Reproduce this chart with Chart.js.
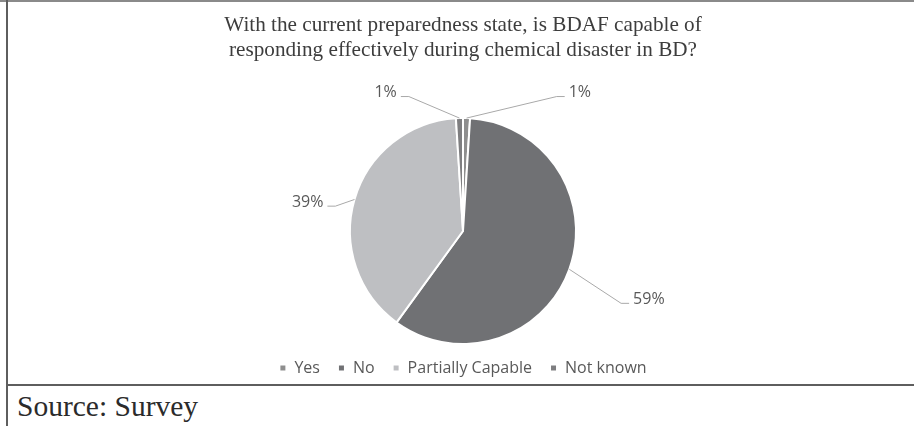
<!DOCTYPE html>
<html>
<head>
<meta charset="utf-8">
<script src="https://cdn.jsdelivr.net/npm/chart.js@4.4.1/dist/chart.umd.min.js"></script>
<style>
  html, body { margin: 0; padding: 0; background: #fff; }
  #page { position: relative; width: 914px; height: 426px; overflow: hidden; background: #fff; }
  #wrap { position: absolute; left: 0; top: 0; width: 914px; height: 386px; }
  .rule { position: absolute; background: #5e5e5e; }
  #source { position: absolute; left: 17px; top: 386px; font-family: "Liberation Serif", serif;
            font-size: 29.5px; color: #2b2b2b; line-height: 40px; white-space: nowrap; }
</style>
</head>
<body>
<div id="page">
  <div id="wrap"><canvas id="chart"></canvas></div>
  <div class="rule" style="left:0;top:0;width:914px;height:2px;background:#8a8a8a"></div>
  <div class="rule" style="left:6px;top:0;width:2px;height:426px"></div>
  <div class="rule" style="left:6px;top:384px;width:908px;height:2px"></div>
  <div id="source">Source: Survey</div>
</div>
<script>
const categories = ["Yes", "No", "Partially Capable", "Not known"];
const shares = [1, 59, 39, 1];
const sliceColors = ["#8e8e8e", "#707174", "#bebfc2", "#7e7e80"];
const titleLines = [
  "With the current preparedness state, is BDAF capable of",
  "responding effectively during chemical disaster in BD?"
];

// Where each leader line ends, relative to the pie centre, in radii.
// side: 1 = text to the right of the leader, -1 = text to the left.
const labelPlacement = [
  { dx: 0.90, dy: -1.19, side: 1 },
  { dx: 1.47, dy: 0.64, side: 1 },
  { dx: -1.20, dy: -0.22, side: -1 },
  { dx: -0.55, dy: -1.19, side: -1 }
];

const leaderLabels = {
  id: "leaderLabels",
  afterDatasetsDraw(chart) {
    const ctx = chart.ctx;
    const meta = chart.getDatasetMeta(0);
    const total = shares.reduce((a, b) => a + b, 0);
    ctx.save();
    meta.data.forEach((arc, i) => {
      const p = arc.getProps(["x", "y", "startAngle", "endAngle", "outerRadius"], true);
      const mid = (p.startAngle + p.endAngle) / 2;
      const r = p.outerRadius;
      const sx = p.x + Math.cos(mid) * r;
      const sy = p.y + Math.sin(mid) * r;
      const pl = labelPlacement[i];
      const ex = p.x + pl.dx * r;
      const ey = p.y + pl.dy * r;
      const kx = ex - pl.side * 8;
      ctx.strokeStyle = "#a9a9a9";
      ctx.lineWidth = 1;
      ctx.beginPath();
      ctx.moveTo(sx, sy);
      ctx.lineTo(kx, ey);
      ctx.lineTo(ex, ey);
      ctx.stroke();
      const txt = Math.round(shares[i] / total * 100) + "%";
      ctx.font = '16px "Open Sans"';
      ctx.fillStyle = "#595959";
      ctx.textBaseline = "middle";
      ctx.textAlign = pl.side > 0 ? "left" : "right";
      ctx.fillText(txt, ex + pl.side * 4, ey - 4);
    });
    ctx.restore();
  }
};

new Chart(document.getElementById("chart"), {
  type: "pie",
  data: {
    labels: categories,
    datasets: [{
      data: shares,
      backgroundColor: sliceColors,
      borderColor: "#ffffff",
      borderWidth: 2,
      radius: 113
    }]
  },
  options: {
    responsive: true,
    maintainAspectRatio: false,
    animation: false,
    layout: { padding: { left: 12, right: 0, top: 0, bottom: 0 } },
    plugins: {
      tooltip: { enabled: false },
      title: {
        display: true,
        text: titleLines,
        color: "#3d3d3d",
        font: { family: '"Liberation Serif", serif', size: 21.2, weight: "normal", lineHeight: 1.18 },
        padding: { top: 13, bottom: 57 }
      },
      legend: {
        position: "bottom",
        labels: {
          boxWidth: 7,
          boxHeight: 7,
          padding: 18,
          color: "#595959",
          font: { family: '"Open Sans"', size: 16 }
        }
      }
    }
  },
  plugins: [leaderLabels]
});
</script>
</body>
</html>
